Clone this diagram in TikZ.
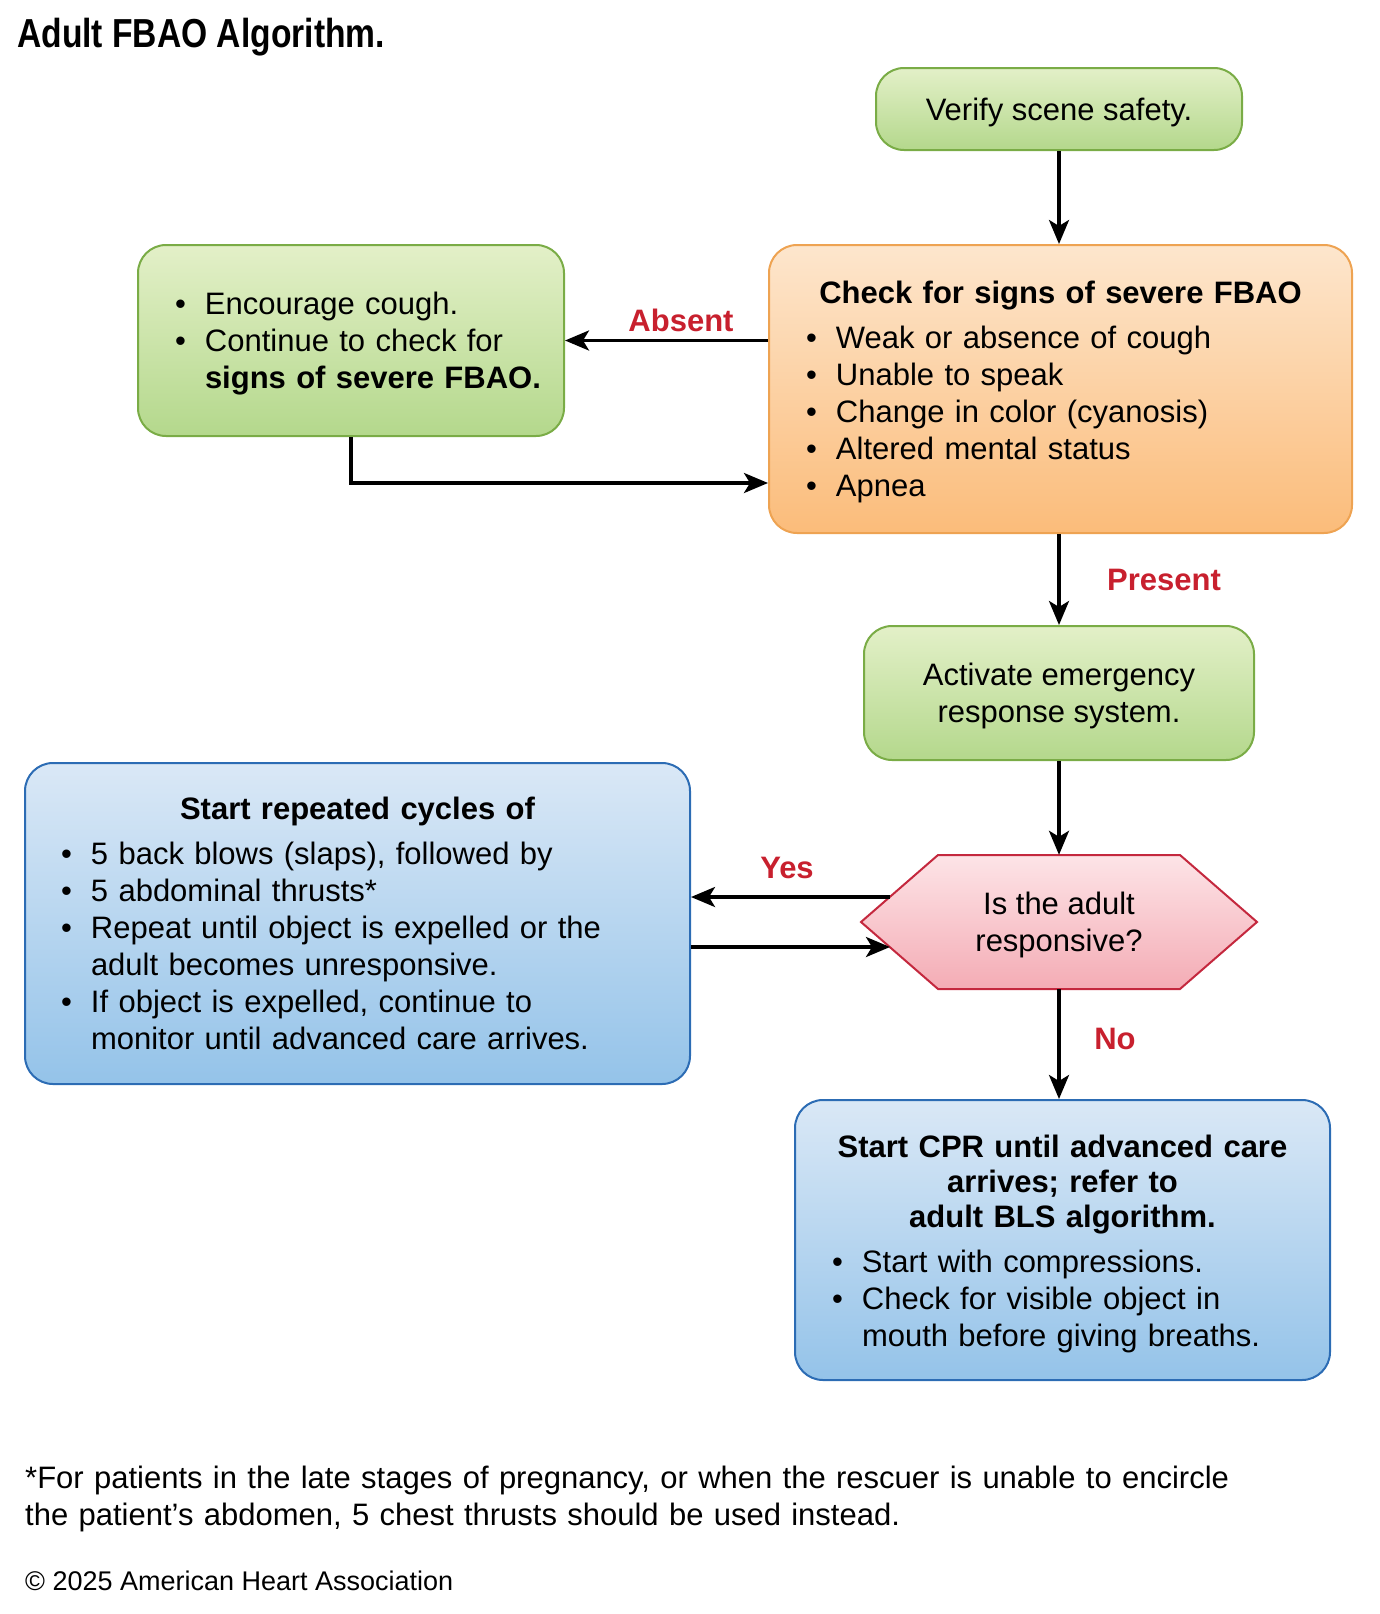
\documentclass[tikz,border=0pt]{standalone}
\usepackage{fontspec}
\setmainfont{Liberation Sans}
\newfontfamily\titlefont[FakeStretch=0.83]{Liberation Sans}
\usetikzlibrary{arrows.meta}
\usetikzlibrary{calc}

\definecolor{grnTop}{RGB}{227,240,200}
\definecolor{grnBot}{RGB}{180,216,140}
\definecolor{grnLine}{RGB}{122,172,70}
\definecolor{orgTop}{RGB}{253,230,205}
\definecolor{orgBot}{RGB}{251,188,122}
\definecolor{orgLine}{RGB}{238,163,82}
\definecolor{bluTop}{RGB}{218,232,246}
\definecolor{bluBot}{RGB}{148,195,233}
\definecolor{bluLine}{RGB}{44,108,180}
\definecolor{pnkTop}{RGB}{253,228,231}
\definecolor{pnkBot}{RGB}{244,172,181}
\definecolor{pnkLine}{RGB}{196,40,62}
\definecolor{ahaRed}{RGB}{200,32,46}

\newcommand{\bodyfont}{\fontsize{31}{37}\selectfont}
\newcommand{\bl}[1]{\mbox{\makebox[30pt][l]{\textbullet}#1}}
\newcommand{\ind}[1]{\mbox{\hspace*{30pt}#1}}
\newcommand{\hd}[1]{\makebox[\linewidth][c]{\bfseries #1}}
\newcommand{\up}[1]{\rule{0pt}{#1}}

\begin{document}
\begin{tikzpicture}[x=1pt, y=-1pt,
  every node/.style={font=\bodyfont, inner sep=0pt},
  box/.style={draw, line width=2pt, rounded corners=28pt, align=left},
  grnbox/.style={box, draw=grnLine, top color=grnTop, bottom color=grnBot},
  orgbox/.style={box, draw=orgLine, top color=orgTop, bottom color=orgBot},
  blubox/.style={box, draw=bluLine, top color=bluTop, bottom color=bluBot},
  arr/.style={line width=3.4pt, -{Stealth[length=24pt, width=20pt, inset=6pt]}},
  lbl/.style={font=\bodyfont\bfseries, text=ahaRed}]
\useasboundingbox (0,0) rectangle (1379,1614);

\node[anchor=base west, font=\titlefont\bfseries\fontsize{40.5}{48}\selectfont] (title) at (17,47) {Adult FBAO Algorithm.};

% boxes
\node[grnbox, minimum width=366pt, minimum height=82pt, align=center] (verify) at (1059,109) {\up{29pt}Verify scene safety.};
\node[orgbox, minimum width=583pt, minimum height=288pt, text width=509pt] (check) at (1060.5,389) {\hd{\up{28pt}Check for signs of severe FBAO}\\[8pt]
  \bl{Weak or absence of cough}\\ \bl{Unable to speak}\\ \bl{Change in color (cyanosis)}\\ \bl{Altered mental status}\\ \bl{Apnea}};
\node[grnbox, minimum width=426pt, minimum height=191pt, text width=352pt] (enc) at (351,340.5) {\bl{\up{29pt}Encourage cough.}\\ \bl{Continue to check for}\\ \ind{\textbf{signs of severe FBAO.}}};
\node[grnbox, minimum width=390pt, minimum height=134pt, align=center] (act) at (1059,693) {\up{29pt}Activate emergency\\response system.};

\shade[top color=pnkTop, bottom color=pnkBot, draw=pnkLine, line width=2pt] (861,922) -- (938,855) -- (1180,855) -- (1257,922) -- (1180,989) -- (938,989) -- cycle;
\node[minimum width=242pt, minimum height=134pt, align=center] (resp) at (1059,922) {\up{29pt}Is the adult\\responsive?};

\node[blubox, minimum width=665pt, minimum height=321pt, text width=593pt] (cycles) at (357.5,923.5) {\hd{Start repeated cycles of}\\[8pt]
  \bl{5 back blows (slaps), followed by}\\ \bl{5 abdominal thrusts*}\\ \bl{Repeat until object is expelled or the}\\ \ind{adult becomes unresponsive.}\\
  \bl{If object is expelled, continue to}\\ \ind{monitor until advanced care arrives.}};
\node[blubox, minimum width=535pt, minimum height=280pt, text width=461pt] (cpr) at (1062.5,1240) {\hd{\up{31pt}Start CPR until advanced care}\\[-2pt] \hd{arrives; refer to}\\[-2pt] \hd{adult BLS algorithm.}\\[8pt]
  \bl{Start with compressions.}\\ \bl{Check for visible object in}\\ \ind{mouth before giving breaths.}};

% arrows
\draw[arr] (verify) -- (verify |- check.north);
\draw[arr] (check.west |- enc.east) -- (enc.east);
\draw[arr] (enc.south) |- ($(check.west)+(0,94)$);
\draw[arr] (check.south -| act.north) -- (act.north);
\draw[arr] (act.south) -- (resp.north);
\draw[arr] (resp.south) -- (resp.south |- cpr.north);
\coordinate (yesA) at (890,897);
\coordinate (backA) at (890,947);
\draw[arr] (yesA) -- (yesA -| cycles.east);
\draw[arr] (backA -| cycles.east) -- (backA);

\node[lbl] (absent) at (681,320) {Absent};
\node[lbl] (present) at (1164,580) {Present};
\node[lbl] (yes) at (787,868) {Yes};
\node[lbl] (no) at (1115,1039) {No};

\node[anchor=base west, text width=1300pt, align=left] (note) at (25,1488) {*For patients in the late stages of pregnancy, or when the rescuer is unable to encircle\\the patient’s abdomen, 5 chest thrusts should be used instead.};
\node[anchor=base west, font=\fontsize{27}{32}\selectfont] (copy) at (25,1590) {© 2025 American Heart Association};
\end{tikzpicture}
\end{document}
